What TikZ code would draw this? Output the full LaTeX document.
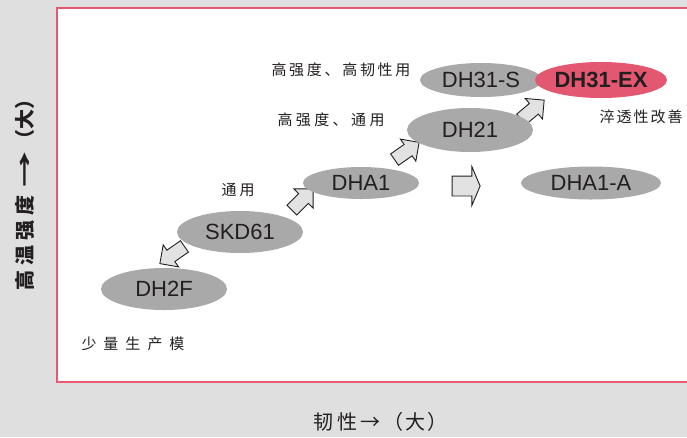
\documentclass[tikz,border=0pt]{standalone}
\usepackage{fontspec}
\setmainfont{Liberation Sans}
\newfontfamily\cjk{Noto Sans CJK SC}
\usetikzlibrary{shapes.arrows,shapes.geometric}
\definecolor{bggray}{HTML}{DFDFDF}
\definecolor{framered}{HTML}{E8586F}
\definecolor{exred}{HTML}{E35870}
\definecolor{ellgray}{HTML}{A9A9A9}
\definecolor{inkc}{HTML}{231F20}
\definecolor{arrfill}{HTML}{E2E2E2}
\tikzset{
  x=1pt, y=-1pt,
  steel/.style={ellipse, fill=ellgray, inner sep=0pt, text=inkc,
    font=\fontsize{22}{24}\selectfont},
  blockarrow/.style={single arrow, draw=inkc, fill=arrfill, line width=0.9pt,
    inner sep=6.5pt, single arrow head extend=6.5pt, single arrow tip angle=90,
    minimum height=30pt, line join=miter},
  cjklabel/.style={font=\cjk\fontsize{15}{17}\selectfont, text=inkc, inner sep=0pt},
}
\begin{document}
\begin{tikzpicture}
\useasboundingbox (0,0) rectangle (687,437);
\fill[bggray] (0,0) rectangle (687,437);
\begin{scope}
\clip (0,0) rectangle (687,437);
\draw[framered, line width=2.5pt, fill=white] (57,8) rectangle (700,382);
\end{scope}

% block arrows (behind ellipses)
\node[blockarrow, rotate=215] (a1) at (175,253) {};
\node[blockarrow, rotate=45] (a2) at (300,202) {};
\node[blockarrow, rotate=35] (a3) at (404,153) {};
\node[blockarrow, rotate=40] (a4) at (530,112) {};
\node[blockarrow, inner sep=9.5pt, single arrow head extend=9.5pt,
  single arrow tip angle=134, minimum height=28pt] (a5) at (464,186) {};

% steels
\node[steel, minimum width=126pt, minimum height=42pt] (dh2f) at (164,289) {DH2F};
\node[steel, minimum width=126pt, minimum height=42pt] (skd61) at (240,232) {SKD61};
\node[steel, minimum width=116pt, minimum height=32pt] (dha1) at (361,183) {DHA1};
\node[steel, minimum width=126pt, minimum height=44pt] (dh21) at (470,130) {DH21};
\node[steel, minimum width=122pt, minimum height=34pt] (dh31s) at (481,80) {DH31-S};
\node[steel, fill=exred, minimum width=132pt, minimum height=36pt,
  font=\fontsize{22}{24}\selectfont\bfseries] (dh31ex) at (601,80) {DH31-EX};
\node[steel, minimum width=140pt, minimum height=33pt] (dha1a) at (591,183) {DHA1-A};

% labels
\node[cjklabel] (l1) at (341,70) {高\kern2.7pt 强\kern2.7pt 度\kern2.7pt 、\kern2.7pt 高\kern2.7pt 韧\kern2.7pt 性\kern2.7pt 用};
\node[cjklabel] (l2) at (331,120) {高\kern3.4pt 强\kern3.4pt 度\kern3.4pt 、\kern3.4pt 通\kern3.4pt 用};
\node[cjklabel] (l3) at (238,190) {通\kern3pt 用};
\node[cjklabel] (l4) at (641,117) {淬\kern2pt 透\kern2pt 性\kern2pt 改\kern2pt 善};
\node[cjklabel] (l5) at (133,344) {少\kern7pt 量\kern7pt 生\kern7pt 产\kern7pt 模};

% axes
\node[cjklabel, font=\cjk\fontsize{20}{22}\selectfont] (xax) at (380,422) {韧\kern4pt 性\kern3pt →\kern3pt（\kern2pt 大\kern2pt）};
\node[cjklabel, font=\cjk\fontsize{20}{22}\selectfont\bfseries, rotate=90] (yax) at (25,190)
  {高\kern5pt 温\kern5pt 强\kern5pt 度\kern8pt\scalebox{1.8}[1]{→}\kern2pt（大）};
\end{tikzpicture}
\end{document}
